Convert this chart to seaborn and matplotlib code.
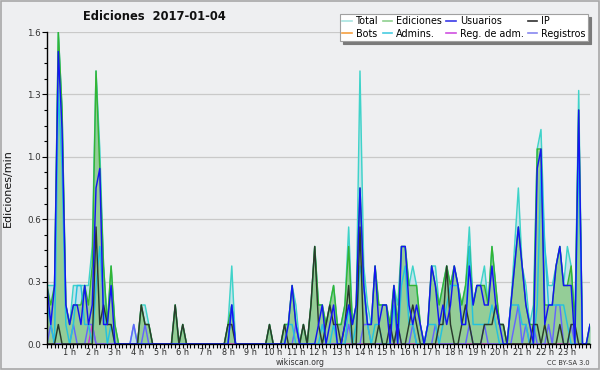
import numpy as np
import pandas as pd
import matplotlib
matplotlib.use("Agg")
import matplotlib.pyplot as plt
from matplotlib.lines import Line2D
from matplotlib.patches import Rectangle
from matplotlib.ticker import MultipleLocator
import seaborn as sns

# ---- data (10-minute slots, rate per minute) ----
minutes = list(range(0, 1441, 10))

total = [
    0.3, 0.3, 0.3, 1.6, 1.2, 0.2, 0.1, 0.3, 0.3, 0.3, 0.3, 0.3,
    0.5, 1.4, 1.0, 0.4, 0.1, 0.4, 0.1, 0.0, 0.0, 0.0, 0.0, 0.1,
    0.0, 0.2, 0.2, 0.1, 0.0, 0.0, 0.0, 0.0, 0.0, 0.0, 0.2, 0.0,
    0.1, 0.0, 0.0, 0.0, 0.0, 0.0, 0.0, 0.0, 0.0, 0.0, 0.0, 0.0,
    0.1, 0.4, 0.0, 0.0, 0.0, 0.0, 0.0, 0.0, 0.0, 0.0, 0.0, 0.1,
    0.0, 0.0, 0.0, 0.1, 0.1, 0.3, 0.2, 0.0, 0.1, 0.0, 0.2, 0.5,
    0.2, 0.2, 0.1, 0.2, 0.3, 0.1, 0.1, 0.2, 0.6, 0.1, 0.2, 1.4,
    0.4, 0.2, 0.1, 0.4, 0.2, 0.2, 0.2, 0.1, 0.3, 0.2, 0.5, 0.5,
    0.3, 0.4, 0.3, 0.1, 0.0, 0.1, 0.4, 0.4, 0.2, 0.3, 0.4, 0.3,
    0.4, 0.3, 0.2, 0.3, 0.6, 0.2, 0.3, 0.3, 0.4, 0.2, 0.5, 0.3,
    0.1, 0.1, 0.0, 0.2, 0.5, 0.8, 0.4, 0.3, 0.1, 0.2, 1.0, 1.1,
    0.5, 0.3, 0.3, 0.4, 0.5, 0.3, 0.5, 0.4, 0.1, 1.3, 0.0, 0.0,
    0.1]

ediciones = [
    0.3, 0.2, 0.3, 1.6, 1.2, 0.2, 0.1, 0.2, 0.2, 0.2, 0.3, 0.2,
    0.4, 1.4, 0.9, 0.4, 0.1, 0.4, 0.1, 0.0, 0.0, 0.0, 0.0, 0.0,
    0.0, 0.2, 0.1, 0.1, 0.0, 0.0, 0.0, 0.0, 0.0, 0.0, 0.2, 0.0,
    0.1, 0.0, 0.0, 0.0, 0.0, 0.0, 0.0, 0.0, 0.0, 0.0, 0.0, 0.0,
    0.1, 0.2, 0.0, 0.0, 0.0, 0.0, 0.0, 0.0, 0.0, 0.0, 0.0, 0.1,
    0.0, 0.0, 0.0, 0.1, 0.1, 0.3, 0.1, 0.0, 0.1, 0.0, 0.2, 0.5,
    0.2, 0.2, 0.1, 0.2, 0.3, 0.1, 0.1, 0.2, 0.5, 0.1, 0.2, 0.8,
    0.3, 0.1, 0.1, 0.4, 0.2, 0.2, 0.2, 0.1, 0.3, 0.1, 0.5, 0.5,
    0.3, 0.3, 0.3, 0.1, 0.0, 0.1, 0.4, 0.3, 0.2, 0.3, 0.4, 0.3,
    0.4, 0.3, 0.2, 0.3, 0.5, 0.2, 0.3, 0.3, 0.3, 0.2, 0.5, 0.3,
    0.1, 0.1, 0.0, 0.2, 0.4, 0.6, 0.4, 0.2, 0.1, 0.1, 1.0, 1.0,
    0.2, 0.2, 0.2, 0.4, 0.5, 0.3, 0.3, 0.4, 0.1, 1.2, 0.0, 0.0,
    0.1]

usuarios = [
    0.3, 0.1, 0.3, 1.5, 1.1, 0.2, 0.1, 0.2, 0.2, 0.1, 0.3, 0.1,
    0.2, 0.8, 0.9, 0.1, 0.1, 0.3, 0.0, 0.0, 0.0, 0.0, 0.0, 0.0,
    0.0, 0.0, 0.0, 0.0, 0.0, 0.0, 0.0, 0.0, 0.0, 0.0, 0.0, 0.0,
    0.0, 0.0, 0.0, 0.0, 0.0, 0.0, 0.0, 0.0, 0.0, 0.0, 0.0, 0.0,
    0.0, 0.2, 0.0, 0.0, 0.0, 0.0, 0.0, 0.0, 0.0, 0.0, 0.0, 0.0,
    0.0, 0.0, 0.0, 0.0, 0.1, 0.3, 0.1, 0.0, 0.0, 0.0, 0.0, 0.0,
    0.1, 0.2, 0.0, 0.1, 0.2, 0.0, 0.0, 0.1, 0.2, 0.1, 0.2, 0.8,
    0.3, 0.1, 0.1, 0.4, 0.1, 0.2, 0.2, 0.0, 0.3, 0.0, 0.5, 0.5,
    0.2, 0.1, 0.2, 0.1, 0.0, 0.1, 0.4, 0.3, 0.1, 0.2, 0.1, 0.2,
    0.4, 0.3, 0.1, 0.1, 0.4, 0.2, 0.3, 0.3, 0.2, 0.2, 0.4, 0.2,
    0.1, 0.0, 0.0, 0.2, 0.4, 0.6, 0.4, 0.2, 0.1, 0.0, 0.9, 1.0,
    0.1, 0.2, 0.2, 0.4, 0.5, 0.3, 0.3, 0.3, 0.0, 1.2, 0.0, 0.0,
    0.1]

ip = [
    0.0, 0.0, 0.0, 0.1, 0.0, 0.0, 0.0, 0.0, 0.0, 0.0, 0.0, 0.0,
    0.0, 0.6, 0.1, 0.2, 0.1, 0.1, 0.0, 0.0, 0.0, 0.0, 0.0, 0.0,
    0.0, 0.2, 0.1, 0.1, 0.0, 0.0, 0.0, 0.0, 0.0, 0.0, 0.2, 0.0,
    0.1, 0.0, 0.0, 0.0, 0.0, 0.0, 0.0, 0.0, 0.0, 0.0, 0.0, 0.0,
    0.1, 0.1, 0.0, 0.0, 0.0, 0.0, 0.0, 0.0, 0.0, 0.0, 0.0, 0.1,
    0.0, 0.0, 0.0, 0.1, 0.0, 0.0, 0.0, 0.0, 0.1, 0.0, 0.2, 0.5,
    0.1, 0.0, 0.1, 0.2, 0.1, 0.1, 0.0, 0.1, 0.3, 0.0, 0.0, 0.6,
    0.0, 0.0, 0.0, 0.0, 0.1, 0.0, 0.0, 0.1, 0.0, 0.1, 0.0, 0.0,
    0.1, 0.2, 0.1, 0.0, 0.0, 0.0, 0.0, 0.0, 0.1, 0.1, 0.4, 0.1,
    0.0, 0.0, 0.1, 0.2, 0.1, 0.0, 0.0, 0.0, 0.1, 0.1, 0.1, 0.2,
    0.1, 0.1, 0.0, 0.0, 0.0, 0.0, 0.0, 0.0, 0.0, 0.1, 0.1, 0.0,
    0.1, 0.0, 0.0, 0.0, 0.1, 0.0, 0.0, 0.1, 0.1, 0.0, 0.0, 0.0,
    0.0]

bots = [0.0] * 145

admins = [
    0.2, 0.1, 0.0, 1.3, 0.9, 0.1, 0.0, 0.1, 0.3, 0.3, 0.1, 0.1,
    0.0, 0.3, 0.5, 0.2, 0.0, 0.1, 0.0, 0.0, 0.0, 0.0, 0.0, 0.0,
    0.0, 0.0, 0.0, 0.0, 0.0, 0.0, 0.0, 0.0, 0.0, 0.0, 0.0, 0.0,
    0.0, 0.0, 0.0, 0.0, 0.0, 0.0, 0.0, 0.0, 0.0, 0.0, 0.0, 0.0,
    0.0, 0.2, 0.0, 0.0, 0.0, 0.0, 0.0, 0.0, 0.0, 0.0, 0.0, 0.0,
    0.0, 0.0, 0.0, 0.0, 0.1, 0.1, 0.0, 0.0, 0.0, 0.0, 0.0, 0.0,
    0.0, 0.1, 0.0, 0.0, 0.1, 0.0, 0.0, 0.0, 0.2, 0.0, 0.1, 0.4,
    0.3, 0.1, 0.0, 0.1, 0.1, 0.0, 0.0, 0.0, 0.2, 0.0, 0.3, 0.4,
    0.1, 0.1, 0.0, 0.0, 0.0, 0.1, 0.1, 0.1, 0.0, 0.1, 0.2, 0.3,
    0.3, 0.3, 0.1, 0.1, 0.5, 0.1, 0.1, 0.1, 0.1, 0.1, 0.2, 0.1,
    0.0, 0.0, 0.0, 0.2, 0.2, 0.2, 0.1, 0.1, 0.0, 0.0, 0.2, 0.9,
    0.5, 0.2, 0.2, 0.2, 0.2, 0.2, 0.1, 0.0, 0.0, 1.0, 0.0, 0.0,
    0.0]

reg_adm = [0.0] * 12 + [0.1] + [0.0] * 132

registros = [
    0.0, 0.1, 0.0, 0.0, 0.0, 0.0, 0.0, 0.1, 0.0, 0.0, 0.0, 0.1,
    0.1, 0.0, 0.0, 0.0, 0.0, 0.0, 0.0, 0.0, 0.0, 0.0, 0.0, 0.1,
    0.0, 0.0, 0.1, 0.0, 0.0, 0.0, 0.0, 0.0, 0.0, 0.0, 0.0, 0.0,
    0.0, 0.0, 0.0, 0.0, 0.0, 0.0, 0.0, 0.0, 0.0, 0.0, 0.0, 0.0,
    0.0, 0.2, 0.0, 0.0, 0.0, 0.0, 0.0, 0.0, 0.0, 0.0, 0.0, 0.0,
    0.0, 0.0, 0.0, 0.0, 0.0, 0.0, 0.1, 0.0, 0.0, 0.0, 0.0, 0.0,
    0.0, 0.0, 0.0, 0.0, 0.0, 0.0, 0.0, 0.0, 0.1, 0.0, 0.0, 0.0,
    0.1, 0.1, 0.0, 0.0, 0.0, 0.0, 0.0, 0.0, 0.0, 0.1, 0.0, 0.0,
    0.0, 0.1, 0.0, 0.0, 0.0, 0.0, 0.0, 0.1, 0.0, 0.0, 0.0, 0.0,
    0.0, 0.0, 0.0, 0.0, 0.1, 0.0, 0.0, 0.0, 0.1, 0.0, 0.0, 0.0,
    0.0, 0.0, 0.0, 0.0, 0.1, 0.2, 0.0, 0.1, 0.0, 0.1, 0.0, 0.0,
    0.0, 0.1, 0.0, 0.2, 0.2, 0.0, 0.0, 0.1, 0.0, 0.0, 0.0, 0.0,
    0.0]

hour_ticks = list(range(1, 24))
hour_labels = [f"{h} h" for h in hour_ticks]
y_ticks = [0.0, 0.32, 0.64, 0.96, 1.28, 1.6]
y_labels = ["0.0", "0.3", "0.6", "1.0", "1.3", "1.6"]

series_names = ["Total", "Ediciones", "Usuarios", "IP", "Bots", "Admins.", "Reg. de adm.", "Registros"]
series_data = [total, ediciones, usuarios, ip, bots, admins, reg_adm, registros]
colors = {
    "Total": "#3fd3c9",
    "Ediciones": "#34b434",
    "Usuarios": "#1414f2",
    "IP": "#2a3a2c",
    "Bots": "#f5a030",
    "Admins.": "#24c2de",
    "Reg. de adm.": "#cc33d6",
    "Registros": "#6464ff",
}
legend_colors = {
    "Total": "#a8e4e0",
    "Ediciones": "#8fd08f",
    "Usuarios": "#3a3ae8",
    "IP": "#303030",
    "Bots": "#f5a040",
    "Admins.": "#48cce0",
    "Reg. de adm.": "#d050e0",
    "Registros": "#8888f0",
}

df = pd.DataFrame({"hora": np.array(minutes) / 60.0})
for n, d in zip(series_names, series_data):
    df[n] = d

# ---- figure ----
BG = "#eeeff1"
fig = plt.figure(figsize=(6.0, 3.7), dpi=100, facecolor=BG)
ax = fig.add_axes([47 / 600, 26 / 370, 543 / 600, 312 / 370])
ax.set_facecolor(BG)

ax.fill_between(df["hora"], 0, df["Total"], color="#c3e3ea", lw=0, zorder=1)
ax.fill_between(df["hora"], 0, df["Ediciones"], color="#94cd97", lw=0, zorder=2)

draw_order = ["Total", "Ediciones", "Bots", "Reg. de adm.", "Registros", "Admins.", "IP", "Usuarios"]
for k, n in enumerate(draw_order):
    sns.lineplot(data=df, x="hora", y=n, ax=ax, color=colors[n], lw=1.05,
                 legend=False, zorder=3 + k)

ax.set_xlim(0, 24)
ax.set_ylim(0, 1.6)
ax.set_xticks(hour_ticks)
ax.set_xticklabels(hour_labels)
ax.xaxis.set_minor_locator(MultipleLocator(1 / 6))
ax.set_yticks(y_ticks)
ax.set_yticklabels(y_labels)
ax.yaxis.set_minor_locator(MultipleLocator(0.08))

ax.grid(axis="y", which="major", color="#c9c9c9", lw=0.9, zorder=0)
ax.set_axisbelow(True)
for s in ["top", "right"]:
    ax.spines[s].set_visible(False)
for s in ["left", "bottom"]:
    ax.spines[s].set_color("black")
    ax.spines[s].set_linewidth(1.0)
    ax.spines[s].set_zorder(20)

ax.tick_params(axis="x", which="both", direction="out", length=3.0, width=0.8,
               color="black", pad=0.2, labelsize=5.9, labelcolor="#2a2a2a")
ax.tick_params(axis="y", which="major", direction="out", length=3.5, width=0.8,
               color="black", pad=1, labelsize=6.3, labelcolor="#333333")
ax.tick_params(axis="y", which="minor", direction="out", length=2.5, width=0.8, color="black")

ax.set_xlabel("")
ax.set_ylabel("Ediciones/min", fontsize=8, color="#111111")
ax.yaxis.set_label_coords(-0.062, 0.5)

fig.text(154 / 600, 1 - 16 / 370, "Ediciones  2017-01-04", ha="center", va="center",
         fontsize=8.3, fontweight="bold", color="#111111")
fig.text(300 / 600, 1 - 362.5 / 370, "wikiscan.org", ha="center", va="center",
         fontsize=5.6, color="#333333")
fig.text(590 / 600, 1 - 363 / 370, "CC BY-SA 3.0", ha="right", va="center",
         fontsize=4.8, color="#333333")

legend_order = ["Total", "Bots", "Ediciones", "Admins.", "Usuarios", "Reg. de adm.", "IP", "Registros"]
handles = [Line2D([], [], color=legend_colors[n], lw=1.2) for n in legend_order]
leg = fig.legend(handles, legend_order, ncol=4, loc="upper right",
                 bbox_to_anchor=(593 / 600, 1 - 9 / 370), fontsize=6.9,
                 handlelength=1.0, handletextpad=0.4, columnspacing=0.45,
                 labelspacing=0.25, borderpad=0.25, fancybox=False,
                 shadow={"color": "#7a7a7a", "alpha": 1.0}, framealpha=1.0,
                 edgecolor="#a0a0a0", facecolor="white")
leg.get_frame().set_linewidth(0.8)

fig.patches.append(Rectangle((0.001, 0.002), 0.997, 0.995, transform=fig.transFigure,
                             fill=False, edgecolor="#a8a8a8", lw=1.2))

fig.savefig("out.png", dpi=100, facecolor=BG)
